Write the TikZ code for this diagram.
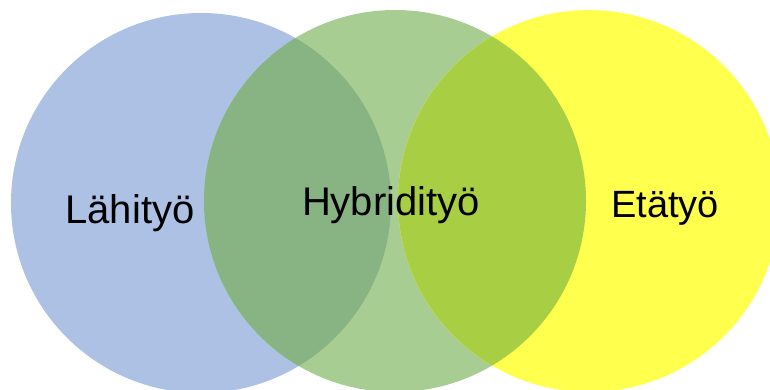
\documentclass[tikz,border=0pt]{standalone}
\usepackage{fontspec}
\setmainfont{Liberation Sans}
\definecolor{cblue}{HTML}{ACC1E4}
\definecolor{cgreen}{HTML}{A8CD93}
\definecolor{cyellow}{HTML}{FFFF4D}
\definecolor{cbg}{HTML}{88B484}
\definecolor{cgy}{HTML}{A8CE44}
\begin{document}
\begin{tikzpicture}[x=1pt,y=-1pt,
  lbl/.style={font=\fontsize{40}{40}\selectfont, text=black, inner sep=0pt, anchor=base}]
\useasboundingbox (0,0) rectangle (770,389);
\clip (0,0) rectangle (770,389);
\fill[cblue] (201,203) circle (190);
\fill[cgreen] (395,201) circle (191);
\fill[cyellow] (589,201) circle (191);
\begin{scope}
  \clip (201,203) circle (190);
  \fill[cbg] (395,201) circle (191);
\end{scope}
\begin{scope}
  \clip (395,201) circle (191);
  \fill[cgy] (589,201) circle (191);
\end{scope}
\node[lbl] (lahi) at (130,223) {Lähityö};
\node[lbl] (hybrid) at (391,215) {Hybridityö};
\node[lbl, font=\fontsize{38}{38}\selectfont] (eta) at (665,217) {Etätyö};
\end{tikzpicture}
\end{document}
